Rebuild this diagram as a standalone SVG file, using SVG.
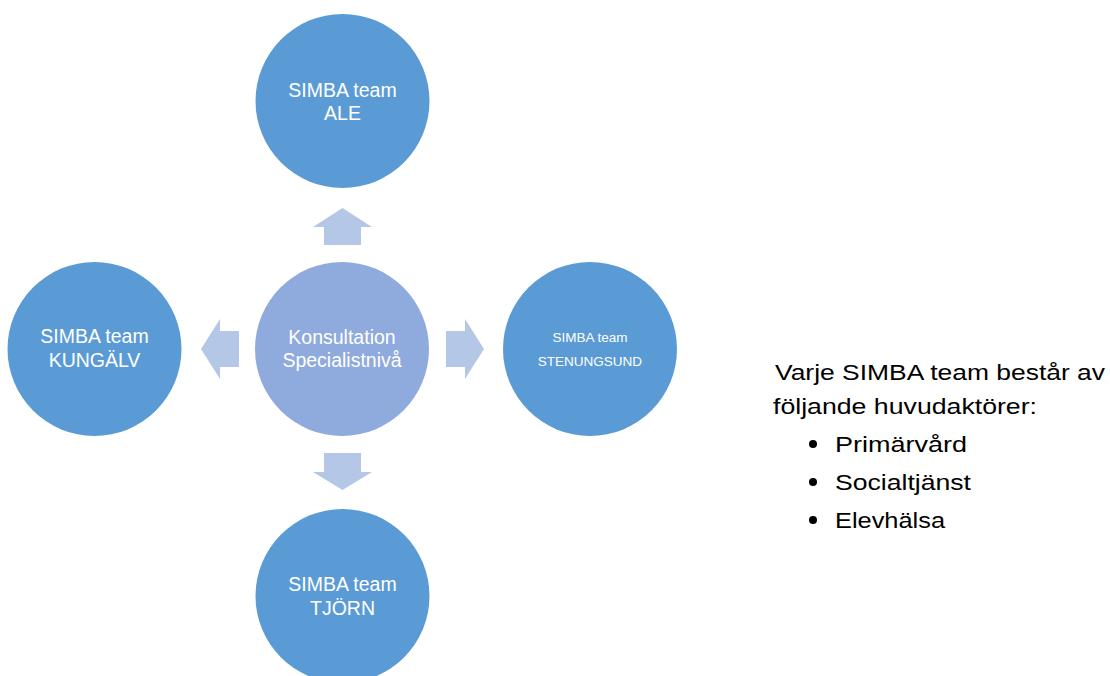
<svg xmlns="http://www.w3.org/2000/svg" width="1110" height="676" viewBox="0 0 1110 676">
<style>
.team{fill:#5B9BD5}
.core{fill:#8FAADC}
.arr{fill:#B4C7E7}
.lbl{fill:#FFFFFF;font-family:"Liberation Sans",Arial,sans-serif;font-size:19.5px;text-anchor:middle}
.sm{font-size:13.5px}
.side{fill:#000000;font-family:"Liberation Sans",Arial,sans-serif;font-size:22px}
</style>
<rect width="1110" height="676" fill="#FFFFFF"/>
<g id="connectors">
<polygon class="arr" points="342.5,208 372,227 361,227 361,245 324,245 324,227 313,227"/>
<polygon class="arr" points="201,349 220,319 220,331 239,331 239,367 220,367 220,379"/>
<polygon class="arr" points="484,349 465,319 465,331 446,331 446,367 465,367 465,379"/>
<polygon class="arr" points="342.5,490 372,472 361,472 361,453 324,453 324,472 313,472"/>
</g>
<g id="node-ale">
<circle class="team" cx="342.5" cy="101" r="87"/>
<text class="lbl" x="342.5" y="97">SIMBA team</text>
<text class="lbl" x="342.5" y="120">ALE</text>
</g>
<g id="node-center">
<circle class="core" cx="342" cy="349" r="87"/>
<text class="lbl" x="342" y="344">Konsultation</text>
<text class="lbl" x="342" y="367">Specialistnivå</text>
</g>
<g id="node-kungalv">
<circle class="team" cx="94.5" cy="349" r="87"/>
<text class="lbl" x="94.5" y="343">SIMBA team</text>
<text class="lbl" x="94.5" y="367">KUNGÄLV</text>
</g>
<g id="node-stenungsund">
<circle class="team" cx="590" cy="349" r="87"/>
<text class="lbl sm" x="590" y="342">SIMBA team</text>
<text class="lbl sm" x="590" y="366">STENUNGSUND</text>
</g>
<g id="node-tjorn">
<circle class="team" cx="342.5" cy="596" r="87"/>
<text class="lbl" x="342.5" y="591">SIMBA team</text>
<text class="lbl" x="342.5" y="615">TJÖRN</text>
</g>
<g id="legend">
<text class="side" x="775" y="380" textLength="330" lengthAdjust="spacingAndGlyphs">Varje SIMBA team består av</text>
<text class="side" x="773" y="414" textLength="264" lengthAdjust="spacingAndGlyphs">följande huvudaktörer:</text>
<circle cx="813" cy="444" r="4" fill="#000"/>
<text class="side" x="835" y="452" textLength="132" lengthAdjust="spacingAndGlyphs">Primärvård</text>
<circle cx="813" cy="482" r="4" fill="#000"/>
<text class="side" x="835" y="490" textLength="136" lengthAdjust="spacingAndGlyphs">Socialtjänst</text>
<circle cx="813" cy="520" r="4" fill="#000"/>
<text class="side" x="835" y="528" textLength="110" lengthAdjust="spacingAndGlyphs">Elevhälsa</text>
</g>
</svg>
